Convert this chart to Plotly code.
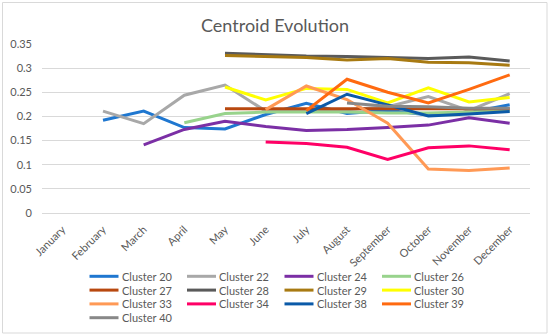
import plotly.graph_objects as go

months = ["January", "February", "March", "April", "May", "June", "July",
          "August", "September", "October", "November", "December"]
N = None
cluster_names = ["Cluster 20", "Cluster 22", "Cluster 24", "Cluster 26",
                 "Cluster 27", "Cluster 28", "Cluster 29", "Cluster 30",
                 "Cluster 33", "Cluster 34", "Cluster 38", "Cluster 39",
                 "Cluster 40"]
c20 = [N, 0.192, 0.211, 0.177, 0.174, 0.204, 0.227, 0.206, 0.213, 0.203, 0.208, 0.224]
c22 = [N, 0.211, 0.185, 0.244, 0.265, 0.211, 0.212, 0.214, 0.220, 0.241, 0.212, 0.247]
c24 = [N, N, 0.141, 0.173, 0.190, 0.179, 0.171, 0.173, 0.177, 0.182, 0.197, 0.186]
c26 = [N, N, N, 0.187, 0.206, 0.209, 0.209, 0.209, 0.207, 0.207, 0.209, 0.211]
c27 = [N, N, N, N, 0.216, 0.216, 0.216, 0.216, 0.216, 0.216, 0.216, 0.216]
c28 = [N, N, N, N, 0.331, 0.328, 0.325, 0.324, 0.322, 0.320, 0.323, 0.315]
c29 = [N, N, N, N, 0.326, 0.324, 0.322, 0.317, 0.320, 0.312, 0.311, 0.306]
c30 = [N, N, N, N, 0.261, 0.234, 0.258, 0.256, 0.228, 0.259, 0.230, 0.239]
c33 = [N, N, N, N, N, 0.214, 0.263, 0.235, 0.186, 0.091, 0.088, 0.093]
c34 = [N, N, N, N, N, 0.147, 0.144, 0.136, 0.111, 0.135, 0.139, 0.131]
c38 = [N, N, N, N, N, N, 0.206, 0.246, 0.224, 0.201, 0.205, 0.210]
c39 = [N, N, N, N, N, N, 0.212, 0.277, 0.250, 0.228, 0.256, 0.286]
c40 = [N, N, N, N, N, N, N, 0.228, 0.221, 0.220, 0.217, 0.217]
series = [c20, c22, c24, c26, c27, c28, c29, c30, c33, c34, c38, c39, c40]
colors = ["#1F77D0", "#A8A8A8", "#7B2FA5", "#98D38C", "#B8480F", "#5A5A5A",
          "#A87A12", "#FFFF00", "#FF9955", "#FF0066", "#0B5AA8", "#FF6A10",
          "#888888"]

W, H = 550, 335
L, R, T, B = 42, 20, 44, 122
pw, ph = W - L - R, H - T - B
FONT = "Lato, Liberation Sans, sans-serif"
GREY = "#595959"

fig = go.Figure()
for name, vals, col in zip(cluster_names, series, colors):
    fig.add_trace(go.Scatter(x=months, y=vals, name=name, mode="lines",
                             line=dict(color=col, width=3), connectgaps=False,
                             showlegend=False))

# Legend laid out like the original (4 columns, tight rows)
def px_x(x):
    return (x - L) / pw

def px_y(y):
    return (T + ph - y) / ph

shapes = [dict(type="rect", xref="paper", yref="paper",
               x0=px_x(2.5), x1=px_x(547), y0=px_y(333), y1=px_y(2.5),
               line=dict(color="#D9D9D9", width=1), fillcolor="rgba(0,0,0,0)",
               layer="below")]
annotations = []
leg_x0, leg_dx, leg_y0, leg_dy, sw = 89.5, 97.5, 276.3, 13.8, 29
for i, (name, col) in enumerate(zip(cluster_names, colors)):
    r, c = divmod(i, 4)
    x0 = leg_x0 + c * leg_dx
    y = leg_y0 + r * leg_dy
    shapes.append(dict(type="line", xref="paper", yref="paper",
                       x0=px_x(x0), x1=px_x(x0 + sw), y0=px_y(y), y1=px_y(y),
                       line=dict(color=col, width=3)))
    annotations.append(dict(text=name, xref="paper", yref="paper",
                            x=px_x(x0 + sw + 1), y=px_y(y), xanchor="left",
                            yanchor="middle", showarrow=False,
                            font=dict(family=FONT, size=11, color=GREY)))

fig.update_layout(
    width=W, height=H,
    margin=dict(l=L, r=R, t=T, b=B),
    paper_bgcolor="white", plot_bgcolor="white",
    showlegend=False,
    hovermode=False,
    font=dict(family=FONT, color=GREY, size=11),
    title=dict(text="Centroid Evolution", x=0.5, xanchor="center",
               y=1 - 26 / H, yanchor="middle",
               font=dict(family=FONT, size=18, color=GREY)),
    xaxis=dict(type="category", tickangle=-45, showgrid=False, showline=False,
               ticks="", tickfont=dict(size=11, color=GREY),
               range=[-0.5, 11.5], automargin=False, ticklabelstandoff=7),
    yaxis=dict(range=[0, 0.35], dtick=0.05, showgrid=True, gridcolor="#D9D9D9",
               gridwidth=1, zeroline=True, zerolinecolor="#D9D9D9", zerolinewidth=1,
               showline=False, ticks="", tickfont=dict(size=11, color=GREY),
               automargin=False, ticklabelstandoff=9),
    shapes=shapes,
    annotations=annotations,
)

fig.write_html("out.html",
               config={"displayModeBar": False},
               post_script="document.body.style.margin='0';"
                           "document.body.style.overflow='hidden';")
